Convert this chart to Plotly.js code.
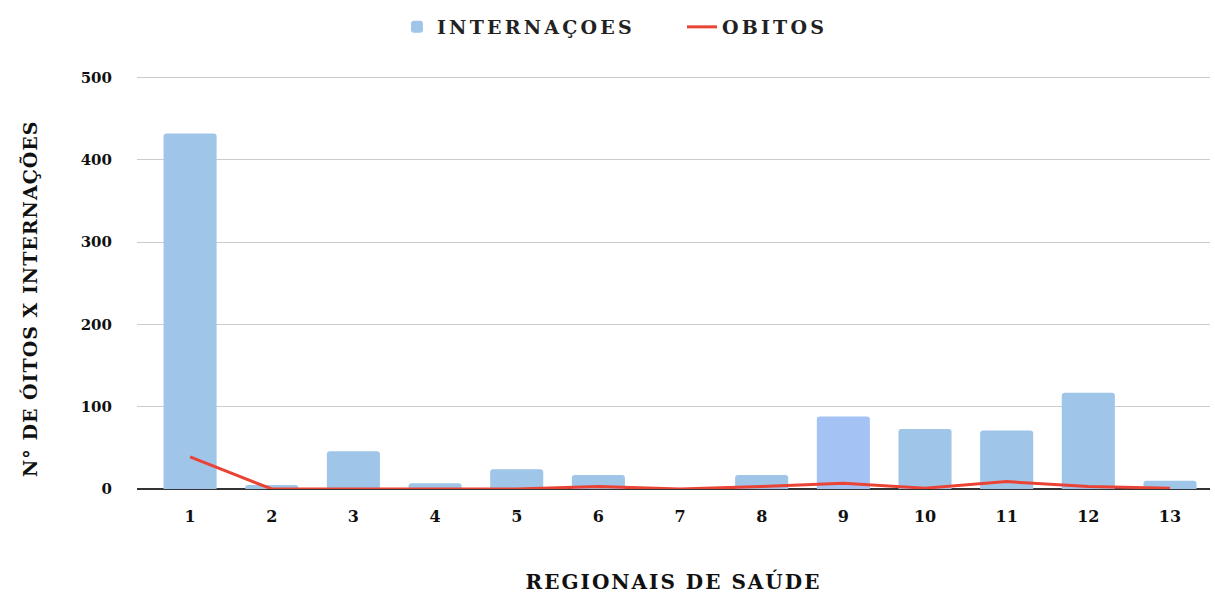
<!DOCTYPE html>
<html><head><meta charset="utf-8">
<script src="https://cdn.plot.ly/plotly-3.0.1.min.js"></script>
<style>
body{margin:0;background:#fff}#c{width:1215px;height:594px}
.legendtext{letter-spacing:3.2px}
.g-xtitle text{letter-spacing:2px}
.annotation-text{letter-spacing:1px}
</style>
</head><body><div id="c"></div>
<script>
const regionais = ['1','2','3','4','5','6','7','8','9','10','11','12','13'];
const internacoes = [432, 5, 46, 7, 24, 17, 0, 17, 88, 73, 71, 117, 10];
const obitos = [39, 0, 0, 0, 0, 3, 0, 3, 7, 1, 9, 3, 1];
const barColors = ['#9fc5e8','#9fc5e8','#9fc5e8','#9fc5e8','#9fc5e8','#9fc5e8','#9fc5e8','#9fc5e8','#a4c2f4','#9fc5e8','#9fc5e8','#9fc5e8','#9fc5e8'];
const yTicks = [0, 100, 200, 300, 400, 500];
const font = 'DejaVu Serif, Liberation Serif, serif';
const data = [
  {type:'bar', x:regionais, y:internacoes, name:'INTERNAÇOES', marker:{color:barColors}, hoverinfo:'x+y'},
  {type:'scatter', mode:'lines', x:regionais, y:obitos, name:'OBITOS', line:{color:'#ea4335', width:3}}
];
const layout = {
  width:1215, height:594,
  margin:{l:137, r:5, t:76, b:105},
  paper_bgcolor:'#fff', plot_bgcolor:'#fff',
  font:{family:font, color:'#222', size:15},
  bargap:0.35, barcornerradius:3,
  showlegend:true,
  legend:{orientation:'h', x:397/1215, xanchor:'left', xref:'container', y:1-27/594, yref:'container', yanchor:'middle',
    font:{family:font, size:19, color:'#222', weight:'bold'}, itemwidth:30, entrywidth:240, traceorder:'normal'},
  xaxis:{type:'category', range:[-0.65, 12.49], showgrid:false, showline:false, ticks:'', ticklabelstandoff:16,
    tickfont:{family:font, size:16, weight:'bold', color:'#111'},
    title:{text:'<b>REGIONAIS DE SAÚDE</b>', font:{family:font, size:20, color:'#111'}, standoff:49}},
  yaxis:{range:[0,502], tickvals:yTicks, gridcolor:'#cccccc', gridwidth:1, zeroline:true, zerolinecolor:'#333', zerolinewidth:1.5,
    showline:false, ticks:'', ticklabelstandoff:24, tickfont:{family:font, size:15, weight:'bold', color:'#111'}},
  annotations:[{text:'<b>N° DE ÓITOS X INTERNAÇÕES</b>', textangle:-90, xref:'paper', yref:'paper',
    x:(30-137)/1073, y:(489-299)/413, xanchor:'center', yanchor:'middle', showarrow:false,
    font:{family:font, size:19, color:'#111'}}]
};
Plotly.newPlot('c', data, layout, {displayModeBar:false, staticPlot:true});
</script></body></html>
